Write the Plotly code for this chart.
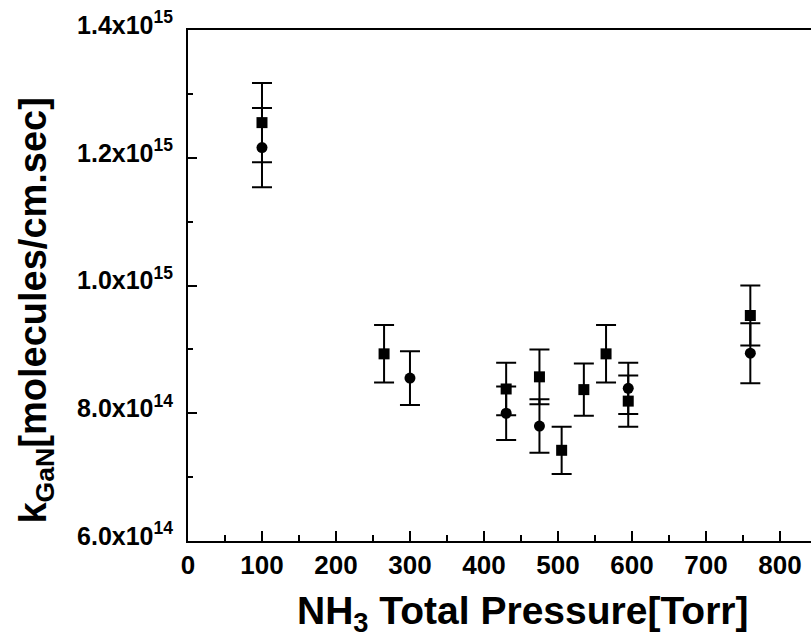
import plotly.graph_objects as go

# Square series
sq_x = [100, 265, 430, 475, 505, 535, 565, 595, 760]
sq_y = [12.55e14, 8.93e14, 8.38e14, 8.57e14, 7.42e14, 8.37e14, 8.93e14, 8.19e14, 9.53e14]
sq_err = [0.62e14, 0.45e14, 0.41e14, 0.43e14, 0.37e14, 0.41e14, 0.45e14, 0.40e14, 0.47e14]

# Circle series
ci_x = [100, 300, 430, 475, 595, 760]
ci_y = [12.16e14, 8.55e14, 8.00e14, 7.80e14, 8.39e14, 8.94e14]
ci_err = [0.62e14, 0.42e14, 0.42e14, 0.42e14, 0.40e14, 0.47e14]

x_ticks = [0, 100, 200, 300, 400, 500, 600, 700, 800]
y_tickvals = [6.0e14, 8.0e14, 1.0e15, 1.2e15, 1.4e15]
y_ticktext = ["6.0x10<sup>14</sup>", "8.0x10<sup>14</sup>", "1.0x10<sup>15</sup>",
              "1.2x10<sup>15</sup>", "1.4x10<sup>15</sup>"]

FONT = "Liberation Sans, Arial, sans-serif"

fig = go.Figure()
err_style = dict(type="data", visible=True, thickness=2, width=10, color="black")
fig.add_trace(go.Scatter(
    x=sq_x, y=sq_y, mode="markers",
    marker=dict(symbol="square", size=11, color="black"),
    error_y=dict(array=sq_err, **err_style),
    showlegend=False))
fig.add_trace(go.Scatter(
    x=ci_x, y=ci_y, mode="markers",
    marker=dict(symbol="circle", size=11, color="black"),
    error_y=dict(array=ci_err, **err_style),
    showlegend=False))

fig.update_layout(
    width=811, height=641,
    margin=dict(l=188, r=0, t=30, b=100),
    paper_bgcolor="white", plot_bgcolor="white",
    font=dict(family=FONT, color="black"),
    xaxis=dict(
        range=[0, 842], tickvals=x_ticks,
        ticktext=[str(v) for v in x_ticks],
        showgrid=False, zeroline=False,
        showline=True, linecolor="black", linewidth=2, mirror=True,
        ticks="inside", ticklen=10, tickwidth=2, tickcolor="black",
        minor=dict(dtick=50, ticks="inside", ticklen=6, tickwidth=2, tickcolor="black"),
        tickfont=dict(family=FONT, size=26, weight="bold"),
        ticklabelstandoff=0,
    ),
    yaxis=dict(
        range=[6.0e14, 1.4e15], tickvals=y_tickvals, ticktext=y_ticktext,
        showgrid=False, zeroline=False,
        showline=True, linecolor="black", linewidth=2, mirror=False,
        ticks="inside", ticklen=9, tickwidth=2, tickcolor="black",
        minor=dict(tickvals=[7e14, 9e14, 1.1e15, 1.3e15], ticks="inside",
                   ticklen=5, tickwidth=2, tickcolor="black"),
        tickfont=dict(family=FONT, size=25, weight="bold"),
        ticklabelstandoff=8,
        ticklabelshift=-5,
    ),
    annotations=[
        dict(text="<b>NH<sub>3</sub> Total Pressure[Torr]</b>", xref="paper", yref="paper",
             x=0.538, y=-0.142, showarrow=False, xanchor="center", yanchor="middle",
             font=dict(family=FONT, size=39, color="black")),
        dict(text="<b>k<sub>GaN</sub>[molecules/cm.sec]</b>", xref="paper", yref="paper",
             x=-0.244, y=0.451, showarrow=False, xanchor="center", yanchor="middle",
             textangle=-90, font=dict(family=FONT, size=38, color="black")),
    ],
)

fig.write_html("out.html")
